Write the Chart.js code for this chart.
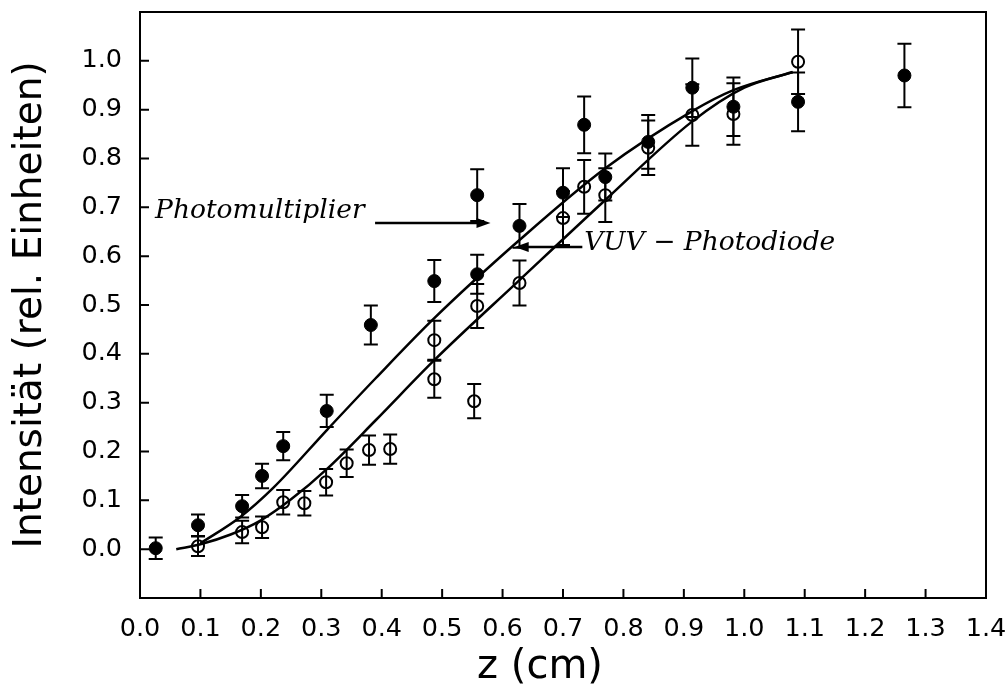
<!DOCTYPE html>
<html>
<head>
<meta charset="utf-8">
<script src="https://cdn.jsdelivr.net/npm/chart.js@4.4.1/dist/chart.umd.min.js"></script>
<style>
  body { margin: 0; background: #fff; }
  canvas { display: block; }
</style>
</head>
<body>
<canvas id="chart" width="1008" height="689"></canvas>
<script>
// Photomultiplier (filled circles)
const pmX   = [0.026, 0.096, 0.169, 0.202, 0.237, 0.309, 0.382, 0.487, 0.558, 0.558, 0.628, 0.700, 0.735, 0.770, 0.841, 0.914, 0.982, 1.089, 1.265];
const pmY   = [0.002, 0.049, 0.088, 0.150, 0.211, 0.283, 0.459, 0.549, 0.725, 0.563, 0.662, 0.730, 0.869, 0.762, 0.834, 0.945, 0.906, 0.916, 0.970];
const pmErr = [0.022, 0.022, 0.023, 0.025, 0.029, 0.033, 0.040, 0.043, 0.053, 0.040, 0.045, 0.050, 0.058, 0.048, 0.055, 0.060, 0.060, 0.060, 0.065];

// VUV - Photodiode (open circles)
const vuvX   = [0.096, 0.169, 0.202, 0.237, 0.272, 0.308, 0.342, 0.379, 0.414, 0.487, 0.487, 0.553, 0.558, 0.628, 0.700, 0.735, 0.770, 0.841, 0.914, 0.982, 1.089];
const vuvY   = [0.006, 0.035, 0.045, 0.096, 0.094, 0.137, 0.176, 0.203, 0.205, 0.428, 0.348, 0.303, 0.498, 0.545, 0.678, 0.742, 0.725, 0.822, 0.889, 0.891, 0.998];
const vuvErr = [0.020, 0.023, 0.022, 0.025, 0.025, 0.027, 0.028, 0.030, 0.030, 0.040, 0.038, 0.035, 0.045, 0.046, 0.055, 0.055, 0.055, 0.056, 0.063, 0.063, 0.066];

// fitted curves
const fitPmX  = [0.10, 0.166, 0.22, 0.31, 0.39, 0.487, 0.628, 0.77, 0.914, 0.982, 1.08];
const fitPmY  = [0.012, 0.066, 0.125, 0.245, 0.35, 0.473, 0.633, 0.78, 0.897, 0.94, 0.977];
const fitVuvX = [0.06, 0.10, 0.15, 0.20, 0.25, 0.31, 0.39, 0.487, 0.628, 0.77, 0.914, 1.00, 1.08];
const fitVuvY = [0.0, 0.01, 0.03, 0.059, 0.102, 0.165, 0.264, 0.387, 0.551, 0.715, 0.876, 0.945, 0.977];

const xTitle = 'z (cm)';
const yTitle = 'Intensität (rel. Einheiten)';
const labelPm = 'Photomultiplier';
const labelVuv = 'VUV − Photodiode';

const toPoints = (xs, ys) => xs.map((x, i) => ({ x: x, y: ys[i] }));

// error bars, drawn under the markers
const errorBars = {
  id: 'errorBars',
  beforeDatasetsDraw(chart) {
    const { ctx, scales: { x, y } } = chart;
    ctx.save();
    ctx.strokeStyle = '#000';
    ctx.lineWidth = 2;
    const draw = (xs, ys, es) => {
      xs.forEach((v, i) => {
        const px = x.getPixelForValue(v);
        const top = y.getPixelForValue(ys[i] + es[i]);
        const bot = y.getPixelForValue(ys[i] - es[i]);
        ctx.beginPath();
        ctx.moveTo(px, top); ctx.lineTo(px, bot);
        ctx.moveTo(px - 7, top); ctx.lineTo(px + 7, top);
        ctx.moveTo(px - 7, bot); ctx.lineTo(px + 7, bot);
        ctx.stroke();
      });
    };
    draw(pmX, pmY, pmErr);
    draw(vuvX, vuvY, vuvErr);
    ctx.restore();
  }
};

function arrow(ctx, x1, y1, x2, y2) {
  const dir = Math.sign(x2 - x1);
  ctx.beginPath();
  ctx.moveTo(x1, y1);
  ctx.lineTo(x2 - dir * 10, y2);
  ctx.stroke();
  ctx.beginPath();
  ctx.moveTo(x2, y2);
  ctx.lineTo(x2 - dir * 14, y2 - 5);
  ctx.lineTo(x2 - dir * 14, y2 + 5);
  ctx.closePath();
  ctx.fill();
}

// frame, inward ticks, labels with arrows, x title
const decorations = {
  id: 'decorations',
  afterDraw(chart) {
    const { ctx, chartArea: a, scales: { x, y } } = chart;
    ctx.save();
    ctx.strokeStyle = '#000';
    ctx.fillStyle = '#000';
    ctx.lineWidth = 2;
    ctx.strokeRect(a.left, a.top, a.right - a.left, a.bottom - a.top);
    ctx.beginPath();
    x.ticks.forEach(t => {
      const px = x.getPixelForValue(t.value);
      ctx.moveTo(px, a.bottom); ctx.lineTo(px, a.bottom - 9);
    });
    y.ticks.forEach(t => {
      const py = y.getPixelForValue(t.value);
      ctx.moveTo(a.left, py); ctx.lineTo(a.left + 9, py);
    });
    ctx.stroke();

    ctx.font = 'italic 26.5px "DejaVu Serif"';
    ctx.textBaseline = 'alphabetic';
    ctx.textAlign = 'left';
    ctx.fillText(labelPm, x.getPixelForValue(0.025), y.getPixelForValue(0.678));
    ctx.fillText(labelVuv, x.getPixelForValue(0.735), y.getPixelForValue(0.612));
    ctx.lineWidth = 2.5;
    arrow(ctx, x.getPixelForValue(0.389), y.getPixelForValue(0.668), x.getPixelForValue(0.580), y.getPixelForValue(0.668));
    arrow(ctx, x.getPixelForValue(0.732), y.getPixelForValue(0.619), x.getPixelForValue(0.620), y.getPixelForValue(0.619));

    ctx.font = '40px "DejaVu Sans"';
    ctx.textAlign = 'center';
    ctx.textBaseline = 'middle';
    ctx.fillText(xTitle, x.getPixelForValue(0.662), 668);
    ctx.restore();
  }
};

const tickFont = { family: 'DejaVu Sans', size: 25.5 };

const noScalePadding = scale => {
  scale.paddingTop = 0;
  scale.paddingBottom = 0;
  scale.paddingLeft = 0;
  scale.paddingRight = 0;
};

new Chart(document.getElementById('chart'), {
  type: 'scatter',
  data: {
    datasets: [
      {
        label: 'Photomultiplier fit',
        data: toPoints(fitPmX, fitPmY),
        showLine: true,
        borderColor: '#000',
        borderWidth: 2.5,
        pointRadius: 0,
        cubicInterpolationMode: 'monotone',
      },
      {
        label: 'VUV fit',
        data: toPoints(fitVuvX, fitVuvY),
        showLine: true,
        borderColor: '#000',
        borderWidth: 2.5,
        pointRadius: 0,
        cubicInterpolationMode: 'monotone',
      },
      {
        label: 'Photomultiplier',
        data: toPoints(pmX, pmY),
        pointRadius: 6.5,
        backgroundColor: '#000',
        borderColor: '#000',
        borderWidth: 1,
      },
      {
        label: 'VUV - Photodiode',
        data: toPoints(vuvX, vuvY),
        pointRadius: 6,
        backgroundColor: 'rgba(0,0,0,0)',
        borderColor: '#000',
        borderWidth: 2,
      },
    ],
  },
  options: {
    responsive: false,
    animation: false,
    layout: { padding: { left: 0, top: 12, right: 22, bottom: 0 } },
    plugins: {
      legend: { display: false },
      tooltip: { enabled: false },
    },
    scales: {
      x: {
        type: 'linear',
        min: 0,
        max: 1.4,
        grid: { display: false },
        border: { display: false },
        ticks: {
          stepSize: 0.1,
          color: '#000',
          font: tickFont,
          padding: 8,
          maxRotation: 0,
          callback: value => (Math.round(value * 10) / 10).toFixed(1),
        },
        afterFit: scale => { scale.height = 91; noScalePadding(scale); },
      },
      y: {
        min: -0.1,
        max: 1.1,
        grid: { display: false },
        border: { display: false },
        ticks: {
          stepSize: 0.1,
          color: '#000',
          font: tickFont,
          padding: 10,
          callback: value => {
            const v = Math.round(value * 10) / 10;
            return (v < 0 || v > 1) ? '' : v.toFixed(1);
          },
        },
        title: {
          display: true,
          text: yTitle,
          color: '#000',
          font: { family: 'DejaVu Sans', size: 39, lineHeight: 1 },
          padding: { top: 11, bottom: 0 },
        },
        afterFit: scale => { scale.width = 140; noScalePadding(scale); },
      },
    },
  },
  plugins: [errorBars, decorations],
});
</script>
</body>
</html>
